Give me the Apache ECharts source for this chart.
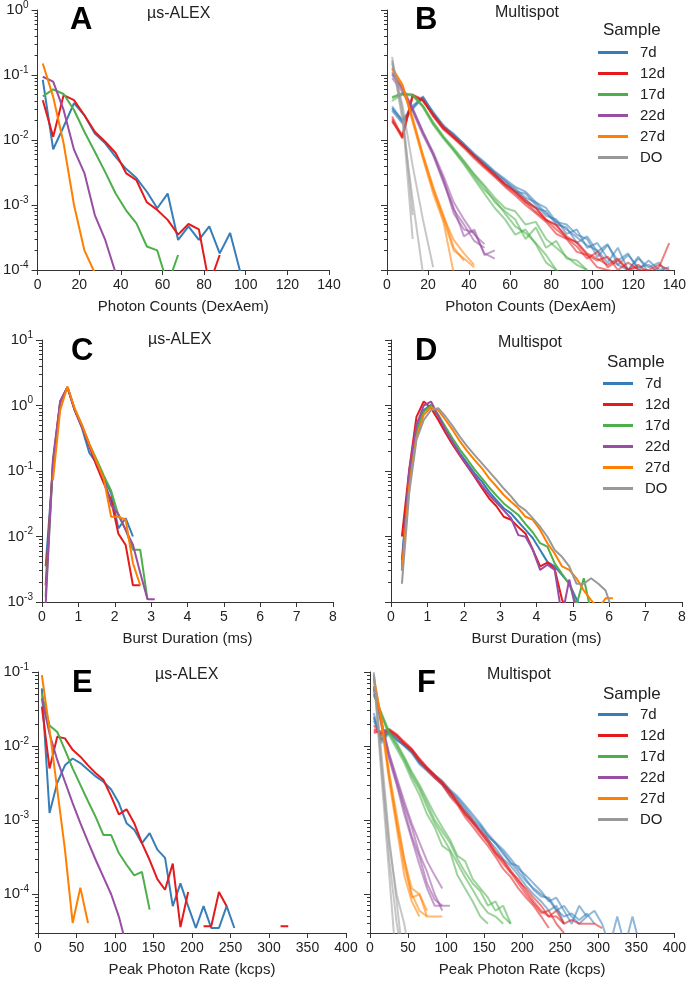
<!DOCTYPE html>
<html>
<head>
<meta charset="utf-8">
<script src="https://cdn.jsdelivr.net/npm/echarts@6/dist/echarts.min.js"></script>
<style>
html, body { margin: 0; padding: 0; background: #fff; }
#chart { width: 689px; height: 981px; }
</style>
</head>
<body>
<div id="chart"></div>
<script>
// bin centres
var xPhoton = [2.5, 7.5, 12.5, 17.5, 22.5, 27.5, 32.5, 37.5, 42.5, 47.5, 52.5, 57.5, 62.5, 67.5,
	72.5, 77.5, 82.5, 87.5, 92.5, 97.5, 102.5, 107.5, 112.5, 117.5, 122.5, 127.5, 132.5, 137.5];
var xDur = [0.1, 0.3, 0.5, 0.7, 0.9, 1.1, 1.3, 1.5, 1.7, 1.9, 2.1, 2.3, 2.5, 2.7, 2.9, 3.1,
	3.3, 3.5, 3.7, 3.9, 4.1, 4.3, 4.5, 4.7, 4.9, 5.1, 5.3, 5.5, 5.7, 5.9, 6.1];
var xRate = [5, 15, 25, 35, 45, 55, 65, 75, 85, 95, 105, 115, 125, 135, 145, 155, 165, 175, 185, 195,
	205, 215, 225, 235, 245, 255, 265, 275, 285, 295, 305, 315, 325, 335, 345, 355, 365];

var sampleNames = ['7d', '12d', '17d', '22d', '27d', 'DO'];
var sampleColors = ['#377eb8', '#e41a1c', '#4daf4a', '#984ea3', '#ff7f00', '#999999'];

// A - us-ALEX photon counts
var a7 = [0.084, 0.0072, 0.016, 0.037, 0.024, 0.0126, 0.0089, 0.0055, 0.0036, 0.0026, 0.0016, 0.00089, 0.0015, 0.00029,
	0.00047, 0.00029, 0.00047, 0.00018, 0.00037, 0.00009];
var a12 = [0.041, 0.0112, 0.049, 0.041, 0.024, 0.0134, 0.0094, 0.0063, 0.0031, 0.0024, 0.0011, 0.00084, 0.00059, 0.00035,
	0.00051, 0.00042, 0.00006, 0.00017];
var a17 = [0.047, 0.06, 0.051, 0.029, 0.0134, 0.0066, 0.0032, 0.0015, 0.00083, 0.00052, 0.00023, 0.0002, 0.00006, 0.00017];
var a22 = [0.094, 0.079, 0.029, 0.0071, 0.0031, 0.0007, 0.00029, 0.00009];
var a27 = [0.15, 0.046, 0.0089, 0.001, 0.0002, 0.00009];

// B - multispot photon counts, a few spots per sample
var b7 = [
	[0.031, 0.019, 0.032, 0.046, 0.026, 0.016, 0.012, 0.0084, 0.0059, 0.0044, 0.0031, 0.0023, 0.0018, 0.0013, 0.0011, 0.00074,
		0.00055, 0.00042, 0.00032, 0.00024, 0.0002, 0.00013, 0.00022, 0.0001, 0.00015, 0.00011, 0.00013, 0.00008],
	[0.028, 0.018, 0.03, 0.044, 0.027, 0.017, 0.012, 0.0088, 0.0062, 0.0046, 0.0033, 0.0025, 0.0019, 0.0016, 0.0011, 0.0009,
		0.00055, 0.0005, 0.00035, 0.0003, 0.00016, 0.00024, 0.00014, 0.00018, 0.0001, 0.00014, 0.0001, 0.00011],
	[0.033, 0.02, 0.034, 0.045, 0.025, 0.016, 0.011, 0.008, 0.0057, 0.0042, 0.003, 0.0021, 0.0017, 0.0012, 0.0009, 0.0008,
		0.0005, 0.00045, 0.00026, 0.00033, 0.00019, 0.00025, 0.00012, 0.0001, 0.00016, 0.00009],
	[0.03, 0.02, 0.031, 0.047, 0.026, 0.016, 0.0125, 0.0086, 0.006, 0.0043, 0.0032, 0.0024, 0.0016, 0.0015, 0.001, 0.00068,
		0.0006, 0.00036, 0.00042, 0.00022, 0.00026, 0.00015, 0.00012, 0.00017, 0.00011, 0.00012, 0.00009]
];
var b12 = [
	[0.021, 0.011, 0.049, 0.041, 0.024, 0.015, 0.011, 0.0079, 0.0055, 0.0039, 0.0029, 0.002, 0.0015, 0.0011, 0.00079, 0.00059,
		0.00042, 0.00031, 0.00023, 0.00015, 0.00019, 0.00011, 0.00014, 0.0001, 0.00011],
	[0.019, 0.012, 0.047, 0.04, 0.025, 0.016, 0.0115, 0.0082, 0.0058, 0.0041, 0.003, 0.0021, 0.0016, 0.0012, 0.0009, 0.00058,
		0.0005, 0.00031, 0.00027, 0.00018, 0.00015, 0.00012, 0.00015, 0.0001, 0.00012, 0.00009, 0.00011, 0.00026],
	[0.023, 0.011, 0.05, 0.042, 0.023, 0.0145, 0.0105, 0.0075, 0.0052, 0.0037, 0.0027, 0.0019, 0.0014, 0.001, 0.00075, 0.00055,
		0.00036, 0.0003, 0.00019, 0.00017, 0.00011, 0.0001, 0.00009],
	[0.02, 0.0105, 0.048, 0.04, 0.024, 0.015, 0.011, 0.008, 0.0056, 0.004, 0.0028, 0.0021, 0.0016, 0.0011, 0.0009, 0.0006,
		0.00048, 0.00033, 0.00026, 0.00017, 0.00014, 0.00016, 0.0001, 0.00013, 0.0001, 0.0001, 0.00012, 0.0001]
];
var b17 = [
	[0.046, 0.052, 0.049, 0.033, 0.018, 0.011, 0.007, 0.0044, 0.0027, 0.0017, 0.0012, 0.00074, 0.00047, 0.00037, 0.00026,
		0.00017, 0.0001, 0.00007],
	[0.044, 0.05, 0.05, 0.034, 0.019, 0.0115, 0.0075, 0.0048, 0.003, 0.002, 0.0013, 0.0009, 0.0008, 0.0005, 0.00055, 0.0003,
		0.00022, 0.00016, 0.00012, 0.0001],
	[0.04, 0.05, 0.048, 0.032, 0.017, 0.0105, 0.0068, 0.0042, 0.0025, 0.0015, 0.0009, 0.0006, 0.00035, 0.00042, 0.00025,
		0.00013, 0.0001],
	[0.045, 0.053, 0.05, 0.033, 0.018, 0.011, 0.0072, 0.0046, 0.0029, 0.0019, 0.0011, 0.0008, 0.0006, 0.0003, 0.00045,
		0.00022, 0.00028, 0.00015, 0.00014, 0.0001]
];
var b22 = [
	[0.11, 0.062, 0.029, 0.0127, 0.0062, 0.0024, 0.00074, 0.00042, 0.00038, 0.00018, 0.00015],
	[0.1, 0.06, 0.03, 0.0135, 0.0065, 0.0028, 0.0011, 0.0006, 0.00035, 0.00025],
	[0.09, 0.055, 0.027, 0.012, 0.0058, 0.0022, 0.0009, 0.00033, 0.00042, 0.00017, 0.0002],
	[0.105, 0.065, 0.031, 0.0132, 0.006, 0.0025, 0.00085, 0.0005, 0.00028, 0.00022]
];
var b27 = [
	[0.127, 0.07, 0.02, 0.0055, 0.0017, 0.00066, 0.00029, 0.00018, 0.00012],
	[0.12, 0.068, 0.022, 0.006, 0.0019, 0.0007, 0.00022, 0.00014],
	[0.13, 0.072, 0.019, 0.0052, 0.0015, 0.00055, 0.00009],
	[0.125, 0.07, 0.021, 0.0058, 0.0018, 0.0006, 0.0002, 0.00015, 0.00011]
];
var bDO = [
	[0.19, 0.02, 0.0012, 0.00009],
	[0.17, 0.03, 0.0007],
	[0.15, 0.035, 0.004, 0.0006, 0.00011],
	[0.16, 0.025, 0.0003]
];

// C - us-ALEX burst duration (from 0.1 ms)
var c7 = [0.0035, 0.11, 1.1, 1.9, 0.85, 0.45, 0.19, 0.13, 0.077, 0.046, 0.0133, 0.019, 0.01];
var c12 = [0.0018, 0.13, 1.15, 1.9, 0.85, 0.47, 0.24, 0.12, 0.065, 0.036, 0.011, 0.0074, 0.0018, 0.0018];
var c17 = [0.0012, 0.12, 1.1, 1.9, 0.87, 0.5, 0.26, 0.15, 0.085, 0.05, 0.021, 0.0126, 0.0063, 0.0063, 0.0011];
var c22 = [0.0009, 0.15, 1.15, 1.9, 0.85, 0.47, 0.25, 0.135, 0.075, 0.03, 0.022, 0.0126, 0.0075, 0.0028, 0.0011, 0.0011];
var c27 = [null, 0.072, 0.85, 1.95, 0.9, 0.5, 0.26, 0.14, 0.075, 0.02, 0.02, 0.018, 0.0039, 0.0018];

// D - multispot burst duration
var d7 = [null, 0.0044, 0.092, 0.42, 0.85, 1.02, 0.68, 0.42, 0.28, 0.186, 0.131, 0.092, 0.069, 0.048, 0.036, 0.027,
	0.0226, 0.0168, 0.0126, 0.0094, 0.0062, 0.0041, 0.0035, 0.0026, 0.0019, 0.0011, 0.0007];
var d12 = [null, 0.01, 0.104, 0.67, 1.15, 0.91, 0.6, 0.38, 0.25, 0.17, 0.117, 0.081, 0.055, 0.038, 0.029, 0.02,
	0.018, 0.014, 0.011, 0.0063, 0.0035, 0.004, 0.0032, 0.0011, 0.0006];
var d17 = [null, 0.003, 0.085, 0.4, 0.8, 1.0, 0.72, 0.47, 0.31, 0.21, 0.15, 0.105, 0.077, 0.056, 0.042, 0.032,
	0.026, 0.0213, 0.0155, 0.0115, 0.0079, 0.007, 0.0039, 0.0027, 0.0019, 0.0009, 0.0023, 0.0007];
var d22 = [null, 0.0035, 0.1, 0.5, 1.0, 1.15, 0.7, 0.42, 0.27, 0.175, 0.12, 0.085, 0.06, 0.043, 0.033, 0.025,
	0.019, 0.0105, 0.0099, 0.0062, 0.0031, 0.0037, 0.0031, 0.0006, 0.0022, 0.0007];
var d27 = [null, 0.0031, 0.058, 0.33, 0.72, 0.94, 0.85, 0.6, 0.42, 0.28, 0.2, 0.147, 0.11, 0.077, 0.058, 0.043,
	0.034, 0.027, 0.02, 0.0179, 0.0126, 0.0079, 0.0055, 0.0035, 0.0031, 0.0023, 0.0015, 0.00107, 0.0008, 0.00114, 0.00114];
var dDO = [null, 0.0019, 0.046, 0.3, 0.6, 0.85, 0.91, 0.68, 0.48, 0.33, 0.235, 0.175, 0.131, 0.098, 0.073, 0.054,
	0.041, 0.03, 0.025, 0.0189, 0.0141, 0.0099, 0.0062, 0.0049, 0.0035, 0.0019, 0.0019, 0.0023, 0.0019, 0.0015, 0.0007];

// E - us-ALEX peak photon rate
var e7 = [0.06, 0.00125, 0.0032, 0.0055, 0.0068, 0.0059, 0.0048, 0.0039, 0.0033, 0.0026, 0.0017, 0.00091, 0.00074,
	0.00049, 0.00067, 0.0004, 0.00031, 0.000069, 0.00014, 0.000069, 0.000035, 0.000069, 0.000035, 0.000035, 0.000069, 0.000035];
var e12 = [0.034, 0.005, 0.0134, 0.0127, 0.0089, 0.0072, 0.0055, 0.0043, 0.0035, 0.0021, 0.0012, 0.0014, 0.00091,
	0.00049, 0.00029, 0.00016, 0.000115, 0.00026, 0.000036, 0.000107, null, 0.000037, 0.000037, 0.000107, 0.000069,
	null, null, null, null, null, null, 0.000037, 0.000037];
var e17 = [0.051, 0.019, 0.0155, 0.0089, 0.005, 0.003, 0.0018, 0.0011, 0.00063, 0.00063, 0.00036, 0.00025, 0.00018,
	0.0002, 0.000062];
var e22 = [0.044, 0.0147, 0.0065, 0.0033, 0.0017, 0.00091, 0.00051, 0.00029, 0.00017, 0.0001, 0.00005, 0.00002];
var e27 = [0.091, 0.0165, 0.0026, 0.0004, 0.000041, 0.000123, 0.000041];

// F - multispot peak photon rate
var f7 = [
	[0.025, 0.012, 0.0155, 0.012, 0.0102, 0.0083, 0.0059, 0.0048, 0.0039, 0.0032, 0.0024, 0.0019, 0.0014, 0.001, 0.00081,
		0.0006, 0.00049, 0.00035, 0.00026, 0.00024, 0.00016, 0.000115, 0.000093, 0.00009, 0.000062, 0.00005, 0.000055,
		0.000045, 0.000055, 0.00004],
	[0.022, 0.013, 0.016, 0.013, 0.0105, 0.0086, 0.0062, 0.005, 0.0041, 0.0034, 0.0026, 0.0021, 0.0016, 0.0012, 0.0009,
		0.00065, 0.0005, 0.0004, 0.0003, 0.00022, 0.00018, 0.00014, 0.00011, 0.00008, 0.00009, 0.00006, 0.00004, 0.00007,
		0.00005, 0.00006, 0.00004, 0.00002, 0.00005, 0.00002, 0.00005, 0.00002],
	[0.028, 0.011, 0.015, 0.0125, 0.01, 0.008, 0.0057, 0.0046, 0.0037, 0.003, 0.0022, 0.0017, 0.0013, 0.00092, 0.00075,
		0.00055, 0.00042, 0.0003, 0.00024, 0.00018, 0.00013, 0.0001, 0.00008, 0.00006, 0.00007, 0.00004],
	[0.024, 0.012, 0.0158, 0.0122, 0.0103, 0.0084, 0.006, 0.0049, 0.004, 0.0031, 0.0025, 0.002, 0.0015, 0.0011, 0.00085,
		0.00062, 0.00048, 0.00037, 0.00027, 0.0002, 0.00015, 0.00012, 0.0001, 0.000085, 0.00006, 0.00007, 0.00005, 0.00004,
		0.00005]
];
var f12 = [
	[0.017, 0.0148, 0.0165, 0.014, 0.011, 0.0089, 0.0065, 0.005, 0.0039, 0.0032, 0.0023, 0.0017, 0.0012, 0.00091,
		0.00067, 0.00051, 0.00035, 0.00026, 0.000195, 0.00014, 0.0001, 0.000075, 0.000056, 0.00006, 0.00004, 0.00003],
	[0.015, 0.016, 0.017, 0.0145, 0.0115, 0.0092, 0.0068, 0.0052, 0.0041, 0.0033, 0.0025, 0.0018, 0.0013, 0.001, 0.00072,
		0.00055, 0.00038, 0.00029, 0.00021, 0.00015, 0.00012, 0.00009, 0.00007, 0.00005, 0.00006, 0.00004, 0.000045,
		0.00004, 0.00004, 0.00004, 0.000035],
	[0.019, 0.014, 0.016, 0.0135, 0.0105, 0.0085, 0.0062, 0.0048, 0.0037, 0.003, 0.0021, 0.0016, 0.0011, 0.00082, 0.0006,
		0.00045, 0.00032, 0.00022, 0.00017, 0.00012, 0.00009, 0.00007, 0.00005, 0.000035],
	[0.016, 0.015, 0.0168, 0.014, 0.011, 0.009, 0.0066, 0.0051, 0.004, 0.0031, 0.0024, 0.0017, 0.0012, 0.00095, 0.0007,
		0.0005, 0.00036, 0.00028, 0.0002, 0.00016, 0.00011, 0.00008, 0.00006, 0.00005, 0.00005, 0.00004]
];
var f17 = [
	[0.051, 0.027, 0.0148, 0.01, 0.0065, 0.0039, 0.0026, 0.0015, 0.00091, 0.0006, 0.0004, 0.00026, 0.00017, 0.000115,
		0.000076, 0.000056, 0.00005, 0.00004],
	[0.048, 0.028, 0.016, 0.011, 0.0072, 0.0045, 0.003, 0.0019, 0.0012, 0.0008, 0.00055, 0.00033, 0.00028, 0.00016,
		0.00012, 0.00009, 0.00006, 0.00007, 0.00004],
	[0.05, 0.026, 0.014, 0.0092, 0.006, 0.0035, 0.0022, 0.0012, 0.0008, 0.00045, 0.00038, 0.00018, 0.00012, 0.00008,
		0.00005, 0.00004],
	[0.052, 0.027, 0.015, 0.0105, 0.0068, 0.0042, 0.0028, 0.0017, 0.001, 0.0007, 0.0005, 0.0003, 0.0002, 0.00014,
		0.00011, 0.00007, 0.00008, 0.00005, 0.00004]
];
var f22 = [
	[0.063, 0.02, 0.0072, 0.0032, 0.0014, 0.0006, 0.00032, 0.00014, 0.000085, 0.00007],
	[0.06, 0.021, 0.008, 0.0038, 0.0018, 0.0009, 0.0005, 0.00028, 0.00018, 0.00012],
	[0.065, 0.019, 0.0068, 0.003, 0.0012, 0.00055, 0.00025, 0.00012, 0.00007, 0.00007, 0.00007],
	[0.058, 0.022, 0.0078, 0.0035, 0.0016, 0.0008, 0.00035, 0.0002, 0.0001, 0.00006]
];
var f27 = [
	[0.085, 0.022, 0.0039, 0.00091, 0.00024, 0.0001, 0.00006, 0.00005],
	[0.08, 0.024, 0.0045, 0.0012, 0.0003, 0.00012, 0.0001, 0.00005, 0.00005, 0.00005],
	[0.09, 0.02, 0.0035, 0.0008, 0.00018, 0.00008, 0.00005],
	[0.082, 0.023, 0.0042, 0.001, 0.0003, 0.00009, 0.0001, 0.00006]
];
var fDO = [
	[0.095, 0.0052, 0.00032, 0.000041, 0.00001],
	[0.1, 0.008, 0.0006, 0.00008, 0.00001],
	[0.09, 0.004, 0.0002, 0.00001],
	[0.095, 0.006, 0.0005, 0.0001, 0.00004, 0.00001]
];

var axisColor = '#333';
var textColor = '#222';

// panel geometry (pixels)
var grids = [
	{left: 37, top: 10, width: 292, height: 260},
	{left: 387, top: 10, width: 288, height: 260},
	{left: 42, top: 340, width: 291, height: 262},
	{left: 391, top: 340, width: 291, height: 262},
	{left: 38, top: 672, width: 308, height: 261},
	{left: 370, top: 672, width: 308, height: 261}
];

function majorTicks(min, max) {
	var out = [];
	for (var n = Math.ceil(min - 1e-9); n <= max + 1e-9; n++) out.push(n);
	return out;
}
function minorTicks(min, max) {
	var out = [];
	for (var n = Math.floor(min); n < max; n++) {
		for (var k = 2; k <= 9; k++) {
			var v = n + Math.log10(k);
			if (v >= min - 1e-9 && v <= max + 1e-9) out.push(v);
		}
	}
	return out;
}

function yAxesFor(gi, min, max, labels) {
	var majors = majorTicks(min, max);
	return [
		{
			type: 'value', gridIndex: gi, position: 'left', min: min, max: max,
			axisLine: {show: true, onZero: false, lineStyle: {color: axisColor, width: 1}},
			splitLine: {show: false},
			axisTick: {show: true, customValues: majors, length: 6, lineStyle: {color: axisColor}},
			axisLabel: {
				show: labels, customValues: majors, margin: 9,
				formatter: function(v) { return '{b|10}{e|' + Math.round(v) + '}'; },
				rich: {
					b: {fontSize: 15, color: textColor},
					e: {fontSize: 10, color: textColor, padding: [0, 0, 10, 0]}
				}
			}
		},
		{
			type: 'value', gridIndex: gi, position: 'left', min: min, max: max,
			axisLine: {show: false, onZero: false},
			splitLine: {show: false},
			axisTick: {show: true, customValues: minorTicks(min, max), length: 3, lineStyle: {color: axisColor}},
			axisLabel: {show: false}
		}
	];
}

function xAxisFor(gi, max, interval, name) {
	return {
		type: 'value', gridIndex: gi, position: 'bottom', min: 0, max: max, interval: interval,
		axisLine: {show: true, onZero: false, lineStyle: {color: axisColor, width: 1}},
		splitLine: {show: false},
		axisTick: {length: 5, lineStyle: {color: axisColor}},
		axisLabel: {fontSize: 14, color: textColor, margin: 8},
		name: name, nameLocation: 'middle', nameGap: 29,
		nameTextStyle: {fontSize: 15, color: textColor}
	};
}

function toPairs(xs, ys) {
	return ys.map(function(v, i) {
		return [xs[i], v == null ? '-' : Math.log10(v)];
	});
}

function lineSeries(name, color, xs, ys, gi, opacity) {
	return {
		type: 'line', name: name, xAxisIndex: gi, yAxisIndex: gi * 2,
		data: toPairs(xs, ys),
		symbol: 'none', showSymbol: false, connectNulls: false, clip: true,
		lineStyle: {width: 2, color: color, opacity: opacity},
		itemStyle: {color: color},
		emphasis: {disabled: true},
		animation: false
	};
}

var series = [];
// A, C, E: one curve per sample
[[a7, a12, a17, a22, a27, xPhoton, 0], [c7, c12, c17, c22, c27, xDur, 2], [e7, e12, e17, e22, e27, xRate, 4]].forEach(function(p) {
	for (var s = 0; s < 5; s++) series.push(lineSeries(sampleNames[s], sampleColors[s], p[5], p[s], p[6], 1));
});
// D: one curve per sample
[d7, d12, d17, d22, d27, dDO].forEach(function(ys, s) {
	series.push(lineSeries(sampleNames[s], sampleColors[s], xDur, ys, 3, 1));
});
// B, F: several spots per sample, semi-transparent
[[b7, b12, b17, b22, b27, bDO, xPhoton, 1], [f7, f12, f17, f22, f27, fDO, xRate, 5]].forEach(function(p) {
	for (var s = 0; s < 6; s++) {
		p[s].forEach(function(spot) {
			series.push(lineSeries(sampleNames[s], sampleColors[s], p[6], spot, p[7], 0.55));
		});
	}
});

var yAxes = [].concat(
	yAxesFor(0, -4, 0, true), yAxesFor(1, -4, 0, false),
	yAxesFor(2, -3, 1, true), yAxesFor(3, -3, 1, false),
	yAxesFor(4, Math.log10(3e-5), -1, true), yAxesFor(5, Math.log10(3e-5), -1, false)
);
var xAxes = [
	xAxisFor(0, 140, 20, 'Photon Counts (DexAem)'), xAxisFor(1, 140, 20, 'Photon Counts (DexAem)'),
	xAxisFor(2, 8, 1, 'Burst Duration (ms)'), xAxisFor(3, 8, 1, 'Burst Duration (ms)'),
	xAxisFor(4, 400, 50, 'Peak Photon Rate (kcps)'), xAxisFor(5, 400, 50, 'Peak Photon Rate (kcps)')
];

function letter(t, left, top) {
	return {text: t, left: left, top: top, padding: 0, textStyle: {fontSize: 31, fontWeight: 'bold', color: '#000'}};
}
function label(t, left, top, size) {
	return {text: t, left: left, top: top, padding: 0, textStyle: {fontSize: size, fontWeight: 'normal', color: textColor}};
}

function legendAt(left, top) {
	return {
		data: sampleNames, left: left, top: top, orient: 'vertical', padding: 0,
		icon: 'rect', itemWidth: 30, itemHeight: 3, itemGap: 6, selectedMode: false,
		itemStyle: {opacity: 1},
		textStyle: {fontSize: 15, color: textColor, padding: [0, 0, 0, 7]}
	};
}

var chart = echarts.init(document.getElementById('chart'), null, {renderer: 'canvas'});
chart.setOption({
	animation: false,
	backgroundColor: '#fff',
	textStyle: {fontFamily: 'Liberation Sans'},
	title: [
		letter('A', 70, 5), label('\u00b5s-ALEX', 147, 6, 16),
		letter('B', 415, 5), label('Multispot', 495, 5, 16),
		letter('C', 71, 336), label('\u00b5s-ALEX', 148, 332, 16),
		letter('D', 415, 336), label('Multispot', 498, 335, 16),
		letter('E', 72, 668), label('\u00b5s-ALEX', 155, 667, 16),
		letter('F', 417, 668), label('Multispot', 487, 667, 16),
		label('Sample', 603, 22, 17),
		label('Sample', 607, 354, 17),
		label('Sample', 603, 686, 17)
	],
	legend: [legendAt(598, 45), legendAt(603, 376), legendAt(598, 707)],
	grid: grids,
	xAxis: xAxes,
	yAxis: yAxes,
	series: series
});
</script>
</body>
</html>
